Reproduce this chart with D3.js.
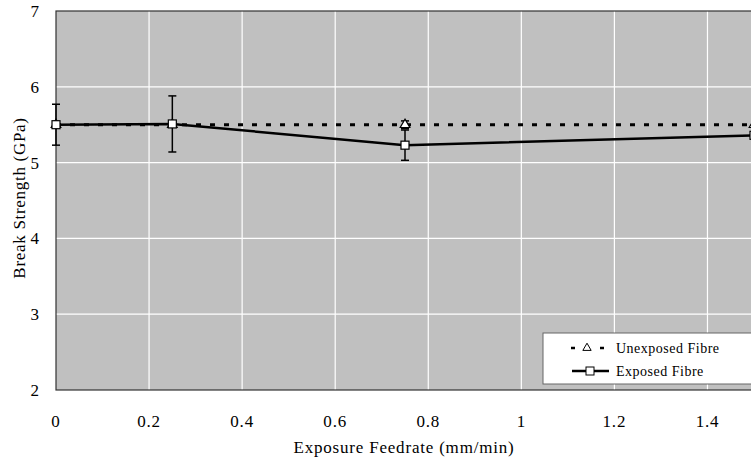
<!DOCTYPE html>
<html lang="en">
  <head>
    <meta charset="UTF-8" />
    <title>Break Strength vs Exposure Feedrate</title>
    <script src="https://d3js.org/d3.v7.min.js"></script>
    <style>
      body { margin: 0; background: #fff; }
    </style>
  </head>
  <body>
    <div id="chart"></div>
    <script>
      const feedrates = [0, 0.25, 0.75, 1.5]
      const unexposed = [5.5, 5.5, 5.5, 5.5]
      const unexposedErr = [0, 0, 0.05, 0]
      const exposed = [5.5, 5.51, 5.23, 5.36]
      const exposedErr = [0.27, 0.37, 0.2, 0]
      const xTicks = [0, 0.2, 0.4, 0.6, 0.8, 1, 1.2, 1.4]
      const yTicks = [2, 3, 4, 5, 6, 7]

      const width = 751
      const height = 464
      const pLeft = 56, pTop = 11, pRight = 754, pBottom = 390

      const x = d3.scaleLinear().domain([0, 1.5]).range([pLeft, pRight])
      const y = d3.scaleLinear().domain([2, 7]).range([pBottom, pTop])

      const svg = d3.select('#chart').append('svg')
        .attr('width', width).attr('height', height)
        .style('font-family', '"Times New Roman", "Liberation Serif", Tinos, "DejaVu Serif", serif')

      svg.append('rect')
        .attr('x', pLeft).attr('y', pTop)
        .attr('width', pRight - pLeft).attr('height', pBottom - pTop)
        .attr('fill', '#c0c0c0')

      // grid
      svg.append('g').selectAll('line').data(xTicks.slice(1)).enter().append('line')
        .attr('x1', d => x(d)).attr('x2', d => x(d))
        .attr('y1', pTop).attr('y2', pBottom)
        .attr('stroke', '#fff').attr('stroke-width', 1.2)
      svg.append('g').selectAll('line').data(yTicks.slice(1, -1)).enter().append('line')
        .attr('x1', pLeft).attr('x2', pRight)
        .attr('y1', d => y(d)).attr('y2', d => y(d))
        .attr('stroke', '#fff').attr('stroke-width', 1.2)

      // border
      svg.append('rect')
        .attr('x', pLeft).attr('y', pTop)
        .attr('width', pRight - pLeft).attr('height', pBottom - pTop)
        .attr('fill', 'none').attr('stroke', '#333').attr('stroke-width', 1.2)

      // tick labels
      svg.append('g').selectAll('text').data(xTicks).enter().append('text')
        .attr('x', d => x(d)).attr('y', 427)
        .attr('text-anchor', 'middle').attr('font-size', 17)
        .attr('letter-spacing', 0.8)
        .text(d => d)
      svg.append('g').selectAll('text').data(yTicks).enter().append('text')
        .attr('x', 39).attr('y', d => y(d) + 6)
        .attr('text-anchor', 'end').attr('font-size', 17)
        .text(d => d)

      svg.append('text')
        .attr('x', 404).attr('y', 453)
        .attr('text-anchor', 'middle').attr('font-size', 17)
        .attr('letter-spacing', 0.8)
        .text('Exposure Feedrate (mm/min)')
      svg.append('text')
        .attr('transform', 'translate(25,198) rotate(-90)')
        .attr('text-anchor', 'middle').attr('font-size', 17)
        .attr('letter-spacing', 0.7)
        .text('Break Strength (GPa)')

      const plot = svg.append('g')
      const line = d3.line().x(d => x(d[0])).y(d => y(d[1]))

      const errBars = (vals, errs) => {
        const g = plot.append('g')
        feedrates.forEach((f, i) => {
          if (!errs[i]) return
          const cx = x(f)
          const y0 = y(vals[i] - errs[i]), y1 = y(vals[i] + errs[i])
          g.append('line').attr('x1', cx).attr('x2', cx).attr('y1', y0).attr('y2', y1)
            .attr('stroke', '#000').attr('stroke-width', 1.5)
          ;[y0, y1].forEach(yy => g.append('line')
            .attr('x1', cx - 4).attr('x2', cx + 4).attr('y1', yy).attr('y2', yy)
            .attr('stroke', '#000').attr('stroke-width', 1.5))
        })
      }

      // unexposed series
      plot.append('path')
        .attr('d', line(feedrates.map((f, i) => [f, unexposed[i]])))
        .attr('fill', 'none').attr('stroke', '#000').attr('stroke-width', 3)
        .attr('stroke-dasharray', '5,9')
      errBars(unexposed, unexposedErr)
      const tri = d3.symbol().type(d3.symbolTriangle).size(40)
      plot.append('g').selectAll('path').data(feedrates).enter().append('path')
        .attr('d', tri)
        .attr('transform', (d, i) => `translate(${x(d)},${y(unexposed[i])})`)
        .attr('fill', '#fff').attr('stroke', '#000').attr('stroke-width', 1.2)

      // exposed series
      plot.append('path')
        .attr('d', line(feedrates.map((f, i) => [f, exposed[i]])))
        .attr('fill', 'none').attr('stroke', '#000').attr('stroke-width', 2.5)
      errBars(exposed, exposedErr)
      plot.append('g').selectAll('rect').data(feedrates).enter().append('rect')
        .attr('x', d => x(d) - 4)
        .attr('y', (d, i) => y(exposed[i]) - 4)
        .attr('width', 8).attr('height', 8)
        .attr('fill', '#fff').attr('stroke', '#000').attr('stroke-width', 1.2)

      // legend
      const lg = svg.append('g').attr('transform', 'translate(543,333)')
      lg.append('rect').attr('width', 210).attr('height', 51)
        .attr('fill', '#fff').attr('stroke', '#666').attr('stroke-width', 1)
      ;[30, 59].forEach(cx => lg.append('line')
        .attr('x1', cx - 2).attr('x2', cx + 2).attr('y1', 15).attr('y2', 15)
        .attr('stroke', '#000').attr('stroke-width', 2.5))
      lg.append('path').attr('d', d3.symbol().type(d3.symbolTriangle).size(30))
        .attr('transform', 'translate(44,15)')
        .attr('fill', '#fff').attr('stroke', '#000').attr('stroke-width', 1)
      lg.append('text').attr('x', 73).attr('y', 20).attr('font-size', 14)
        .attr('letter-spacing', 0.5)
        .text('Unexposed Fibre')
      lg.append('line').attr('x1', 29).attr('x2', 66).attr('y1', 38).attr('y2', 38)
        .attr('stroke', '#000').attr('stroke-width', 2.5)
      lg.append('rect').attr('x', 43).attr('y', 34).attr('width', 8).attr('height', 8)
        .attr('fill', '#fff').attr('stroke', '#000').attr('stroke-width', 1)
      lg.append('text').attr('x', 73).attr('y', 43).attr('font-size', 14)
        .attr('letter-spacing', 0.5)
        .text('Exposed Fibre')
    </script>
  </body>
</html>
